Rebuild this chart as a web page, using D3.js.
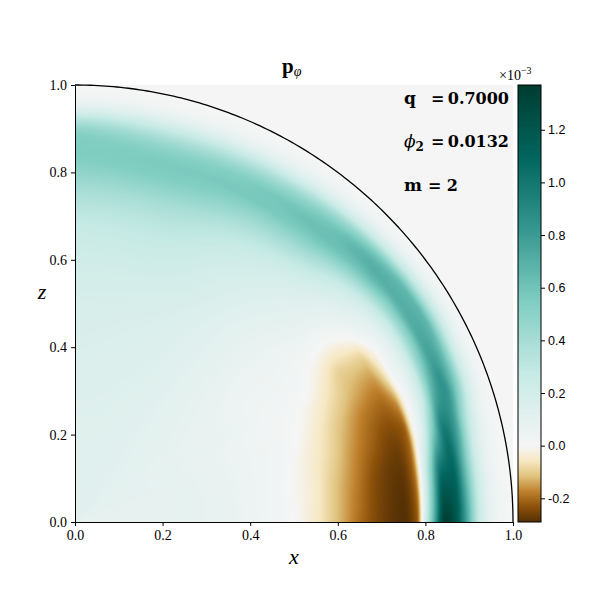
<!DOCTYPE html>
<html><head><meta charset="utf-8">
<script src="https://cdn.jsdelivr.net/npm/d3@7"></script>
<style>body{margin:0;background:#fff}</style>
</head><body>
<svg id="chart" width="600" height="600"></svg>
<script>
// ---- data (p_phi values in units of 1e-3, sampled on radius x latitude) ----
const rNodes = [0, 0.2, 0.4, 0.5, 0.55, 0.6, 0.65, 0.7, 0.75, 0.78, 0.8, 0.82, 0.845, 0.87, 0.895, 0.92, 0.945, 0.97, 1.0];
const latNodes = [0, 8, 15, 20, 25, 30, 35, 40, 50, 60, 75, 90]; // degrees above equator
const lat0  = [0.09, 0.09, 0.05, 0.00, -0.05, -0.12, -0.20, -0.26, -0.29, -0.23, 0.20, 0.70, 1.36, 1.20, 0.75, 0.30, 0.10, 0.03, 0.00];
const lat8  = [0.09, 0.09, 0.05, 0.00, -0.04, -0.11, -0.18, -0.25, -0.28, -0.21, 0.08, 0.50, 1.05, 1.10, 0.70, 0.30, 0.10, 0.03, 0.00];
const lat15 = [0.09, 0.09, 0.05, 0.01, -0.03, -0.08, -0.15, -0.21, -0.25, -0.22, -0.02, 0.15, 0.55, 0.95, 0.80, 0.40, 0.15, 0.04, 0.00];
const lat20 = [0.09, 0.09, 0.05, 0.02, -0.01, -0.06, -0.12, -0.18, -0.21, -0.17, -0.02, 0.08, 0.30, 0.70, 0.85, 0.60, 0.25, 0.07, 0.00];
const lat25 = [0.10, 0.09, 0.05, 0.02, 0.01, -0.03, -0.08, -0.13, -0.16, -0.08, 0.03, 0.08, 0.25, 0.55, 0.77, 0.65, 0.30, 0.08, 0.00];
const lat30 = [0.10, 0.09, 0.06, 0.03, 0.02, 0.01, -0.04, -0.09, -0.09, -0.02, 0.04, 0.10, 0.25, 0.50, 0.72, 0.68, 0.35, 0.10, 0.00];
const lat35 = [0.10, 0.09, 0.06, 0.04, 0.04, 0.03, 0.01, -0.01, 0.02, 0.07, 0.10, 0.16, 0.30, 0.52, 0.70, 0.66, 0.33, 0.09, 0.00];
const lat40 = [0.11, 0.10, 0.07, 0.05, 0.05, 0.05, 0.06, 0.07, 0.10, 0.14, 0.18, 0.25, 0.40, 0.60, 0.70, 0.60, 0.28, 0.07, 0.00];
const lat50 = [0.12, 0.11, 0.10, 0.10, 0.10, 0.11, 0.13, 0.16, 0.22, 0.30, 0.37, 0.45, 0.56, 0.62, 0.58, 0.42, 0.18, 0.05, 0.00];
const lat60 = [0.12, 0.12, 0.13, 0.14, 0.15, 0.17, 0.19, 0.23, 0.30, 0.37, 0.43, 0.50, 0.57, 0.57, 0.48, 0.32, 0.13, 0.04, 0.00];
const lat75 = [0.12, 0.13, 0.15, 0.17, 0.19, 0.22, 0.26, 0.31, 0.39, 0.46, 0.51, 0.55, 0.56, 0.52, 0.42, 0.28, 0.12, 0.03, 0.00];
const lat90 = [0.12, 0.13, 0.16, 0.18, 0.20, 0.22, 0.25, 0.30, 0.38, 0.44, 0.48, 0.52, 0.55, 0.55, 0.50, 0.35, 0.15, 0.04, 0.00];
const field = [lat0, lat8, lat15, lat20, lat25, lat30, lat35, lat40, lat50, lat60, lat75, lat90];

const vMin = -0.29, vMax = 1.37;
const axisTicks = [0, 0.2, 0.4, 0.6, 0.8, 1.0];
const cbarTicks = [-0.2, 0.0, 0.2, 0.4, 0.6, 0.8, 1.0, 1.2];
const paramNames = ["q", "ϕ", "m"];
const paramSubs = ["", "2", ""];
const paramValues = ["0.7000", "0.0132", "2"];

// ---- layout ----
const L = 75, R = 513, T = 85, B = 522;
const svg = d3.select("#chart");
const x = d3.scaleLinear([0, 1], [L, R]);
const y = d3.scaleLinear([0, 1], [B, T]);

// two-slope norm around 0 + BrBG colormap
const brbg = d3.scaleLinear().domain(d3.range(11).map(i => i / 10)).range(d3.schemeBrBG[11]).interpolate(d3.interpolateRgb);
const norm = v => v < 0 ? 0.5 * (v - vMin) / (0 - vMin) : 0.5 + 0.5 * v / vMax;
const lut = d3.range(1024).map(i => d3.rgb(brbg(i / 1023)));
const colorOf = v => lut[Math.max(0, Math.min(1023, Math.round(norm(v) * 1023)))];

// monotone (Steffen) cubic interpolation of a sampled profile
function monotone(xs, ys) {
  const n = xs.length, d = [], m = new Array(n);
  for (let k = 0; k < n - 1; k++) d.push((ys[k + 1] - ys[k]) / (xs[k + 1] - xs[k]));
  m[0] = d[0]; m[n - 1] = d[n - 2];
  for (let k = 1; k < n - 1; k++) {
    const h0 = xs[k] - xs[k - 1], h1 = xs[k + 1] - xs[k], s0 = d[k - 1], s1 = d[k];
    const p = (s0 * h1 + s1 * h0) / (h0 + h1);
    m[k] = (Math.sign(s0) + Math.sign(s1)) * Math.min(Math.abs(s0), Math.abs(s1), 0.5 * Math.abs(p));
  }
  return v => {
    let k = Math.max(0, Math.min(n - 2, d3.bisectRight(xs, v) - 1));
    const h = xs[k + 1] - xs[k], t = Math.max(0, Math.min(1, (v - xs[k]) / h));
    const t2 = t * t, t3 = t2 * t;
    return (2 * t3 - 3 * t2 + 1) * ys[k] + (t3 - 2 * t2 + t) * h * m[k] + (-2 * t3 + 3 * t2) * ys[k + 1] + (t3 - t2) * h * m[k + 1];
  };
}
// fine table on (lat, r)
const NR = 401, NL = 361;
const rFine = d3.range(NR).map(i => i / (NR - 1));
const rowsFine = field.map(row => { const f = monotone(rNodes, row); return rFine.map(f); });
const table = d3.range(NL).map(() => new Float32Array(NR));
for (let i = 0; i < NR; i++) {
  const f = monotone(latNodes, rowsFine.map(r => r[i]));
  for (let j = 0; j < NL; j++) table[j][i] = f(j * 90 / (NL - 1));
}
function sample(r, lat) {
  const fr = r * (NR - 1), fl = lat / 90 * (NL - 1);
  const i = Math.min(NR - 2, Math.floor(fr)), j = Math.max(0, Math.min(NL - 2, Math.floor(fl)));
  const u = fr - i, w = Math.max(0, Math.min(1, fl - j));
  const a = table[j][i] * (1 - u) + table[j][i + 1] * u;
  const b = table[j + 1][i] * (1 - u) + table[j + 1][i + 1] * u;
  return a * (1 - w) + b * w;
}

// ---- field image ----
const W = R - L, H = B - T;
const canvas = document.createElement("canvas");
canvas.width = W; canvas.height = H;
const ctx = canvas.getContext("2d");
const img = ctx.createImageData(W, H);
for (let py = 0; py < H; py++) {
  for (let px = 0; px < W; px++) {
    const xv = x.invert(L + px + 0.5), zv = y.invert(T + py + 0.5);
    const r = Math.hypot(xv, zv);
    const lat = Math.atan2(zv, xv) * 180 / Math.PI;
    const v = r >= 1 ? 0 : sample(r, lat);
    const c = colorOf(v);
    const k = 4 * (py * W + px);
    img.data[k] = c.r; img.data[k + 1] = c.g; img.data[k + 2] = c.b; img.data[k + 3] = 255;
  }
}
ctx.putImageData(img, 0, 0);
svg.append("image").attr("x", L).attr("y", T).attr("width", W).attr("height", H)
  .attr("preserveAspectRatio", "none").attr("href", canvas.toDataURL());

// boundary circle
const angles = d3.range(0, 90.25, 0.5);
svg.append("path")
  .attr("d", d3.line().x(a => x(Math.cos(a * Math.PI / 180))).y(a => y(Math.sin(a * Math.PI / 180)))(angles))
  .attr("fill", "none").attr("stroke", "#000").attr("stroke-width", 1.3);

// axes
const fmt = d3.format(".1f");
const gx = svg.append("g").attr("transform", `translate(0,${B})`)
  .call(d3.axisBottom(x).tickValues(axisTicks).tickFormat(fmt).tickSize(4).tickSizeOuter(0).tickPadding(4));
const gy = svg.append("g").attr("transform", `translate(${L},0)`)
  .call(d3.axisLeft(y).tickValues(axisTicks).tickFormat(fmt).tickSize(4).tickSizeOuter(0).tickPadding(4));
[gx, gy].forEach(g => {
  g.selectAll("text").attr("font-family", "Liberation Serif").attr("font-size", 14).attr("fill", "#000");
  g.selectAll("line,path").attr("stroke", "#000").attr("stroke-width", 1);
});

// axis labels
svg.append("text").attr("x", (L + R) / 2).attr("y", 564).attr("text-anchor", "middle")
  .attr("font-family", "Liberation Serif").attr("font-style", "italic").attr("font-size", 22).text("x");
svg.append("text").attr("x", 42).attr("y", 299).attr("text-anchor", "middle")
  .attr("font-family", "Liberation Serif").attr("font-style", "italic").attr("font-size", 22).text("z");

// title
const title = svg.append("text").attr("x", 282).attr("y", 73).attr("font-family", "Liberation Serif");
title.append("tspan").attr("font-weight", "bold").attr("font-size", 21).text("p");
title.append("tspan").attr("font-style", "italic").attr("font-size", 14).attr("dy", 3).text("φ");

// parameter annotations
const rowY = [104, 147, 191];
const eqX = [431, 431, 428];
const valX = [509, 509, 458];
paramNames.forEach((name, i) => {
  const t = svg.append("text").attr("x", 404).attr("y", rowY[i]).attr("font-family", "DejaVu Serif").attr("font-size", 17);
  t.append("tspan").attr("font-weight", name === "ϕ" ? "normal" : "bold")
    .attr("font-style", name === "ϕ" ? "italic" : "normal").text(name);
  if (paramSubs[i]) t.append("tspan").attr("font-weight", "bold").attr("font-size", 12).attr("dy", 4).text(paramSubs[i]);
  svg.append("text").attr("x", eqX[i]).attr("y", rowY[i]).attr("font-family", "DejaVu Serif")
    .attr("font-size", 16).attr("font-weight", "bold").text("=");
  svg.append("text").attr("x", valX[i]).attr("y", rowY[i]).attr("text-anchor", "end").attr("font-family", "DejaVu Serif")
    .attr("font-size", 16).attr("font-weight", "bold").text(paramValues[i]);
});

// colorbar
const CL = 518, CR = 541;
const cy = d3.scaleLinear([vMin, vMax], [B, T]);
const cbCanvas = document.createElement("canvas");
cbCanvas.width = 1; cbCanvas.height = H;
const cctx = cbCanvas.getContext("2d");
const cimg = cctx.createImageData(1, H);
for (let py = 0; py < H; py++) {
  const c = colorOf(cy.invert(T + py + 0.5));
  cimg.data[4 * py] = c.r; cimg.data[4 * py + 1] = c.g; cimg.data[4 * py + 2] = c.b; cimg.data[4 * py + 3] = 255;
}
cctx.putImageData(cimg, 0, 0);
svg.append("image").attr("x", CL).attr("y", T).attr("width", CR - CL).attr("height", H)
  .attr("preserveAspectRatio", "none").attr("href", cbCanvas.toDataURL());
svg.append("rect").attr("x", CL).attr("y", T).attr("width", CR - CL).attr("height", H)
  .attr("fill", "none").attr("stroke", "#000").attr("stroke-width", 1);
const gc = svg.append("g").attr("transform", `translate(${CR},0)`)
  .call(d3.axisRight(cy).tickValues(cbarTicks).tickFormat(d => d3.format(".1f")(d).replace("−", "-")).tickSize(4).tickSizeOuter(0).tickPadding(3));
gc.select(".domain").remove();
gc.selectAll("text").attr("font-family", "Liberation Sans").attr("font-size", 12.5).attr("fill", "#000");
gc.selectAll("line").attr("stroke", "#000");
const off = svg.append("text").attr("x", 499).attr("y", 80).attr("font-family", "Liberation Serif").attr("font-size", 14);
off.append("tspan").text("×10");
off.append("tspan").attr("font-size", 10).attr("dy", -6).text("−3");
</script>
</body></html>
